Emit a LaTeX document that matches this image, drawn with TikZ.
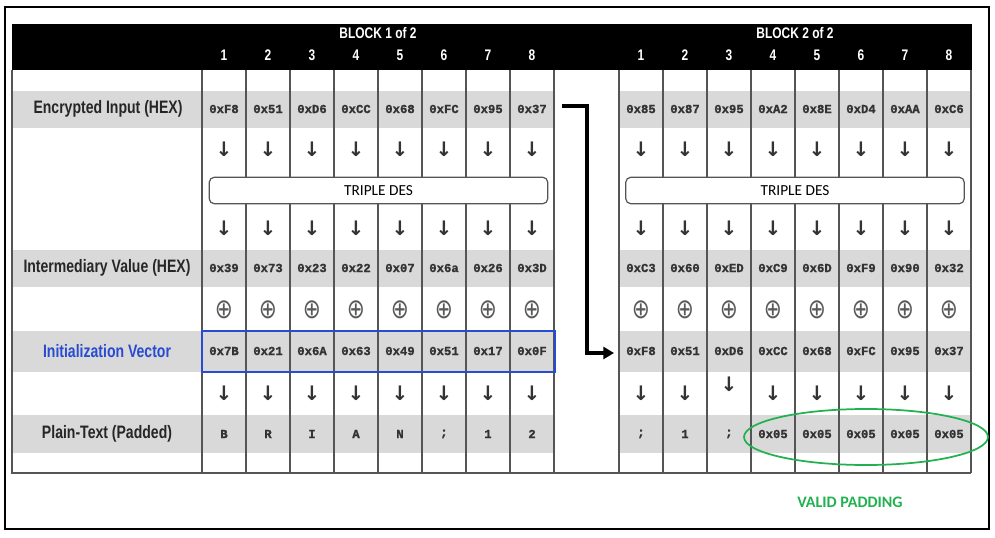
\documentclass[tikz,border=0pt]{standalone}
\usepackage{fontspec}
\setmainfont{Liberation Sans}
\newfontfamily\narrowfont[FakeStretch=0.78]{Liberation Sans Bold}
\newfontfamily\hexfont[FakeBold=1.2]{Liberation Mono Bold}
\newfontfamily\symfont{DejaVu Sans}
\newfontfamily\desfont{Carlito}
\usetikzlibrary{arrows.meta}
\definecolor{band}{RGB}{217,217,217}
\definecolor{rule}{RGB}{85,85,85}
\definecolor{ivblue}{RGB}{40,75,210}
\definecolor{padgreen}{RGB}{34,177,80}
\begin{document}
\begin{tikzpicture}[x=0.75pt,y=-0.75pt,
    hex/.style={font=\hexfont\fontsize{9.2}{9.2}\selectfont, text=black!80},
    lab/.style={font=\narrowfont\fontsize{13.5}{13.5}\selectfont, text=black!85},
    hdr/.style={font=\narrowfont\fontsize{11.5}{11.5}\selectfont, text=white},
    dn/.style={font=\symfont\bfseries\fontsize{15}{15}\selectfont, text=black!80},
    xr/.style={font=\symfont\fontsize{18}{18}\selectfont, text=black!65},
    des/.style={draw=rule, fill=white, rounded corners=4pt, line width=0.9pt,
        minimum width=254pt, minimum height=20pt, inner sep=0pt,
        font=\desfont\fontsize{11.5}{11.5}\selectfont},
    flow/.style={-{Triangle[length=8pt,width=9pt]}, line width=2.3pt}]
\useasboundingbox (0,0) rectangle (995,538);
\draw[line width=1.5pt] (5,7) rectangle (989,529);
\foreach \t/\b in {91/128,250/287,331/372,415/453}{
    \fill[band] (12,\t) rectangle (555,\b);
    \fill[band] (619,\t) rectangle (971,\b);
}
\fill (12,24) rectangle (972,70);
\draw[rule, line width=0.8pt] (12,70) -- (12,473) -- (971,473);
\node[lab] (enc) at (108,109) {Encrypted Input (HEX)};
\node[lab] (mid) at (107,268) {Intermediary Value (HEX)};
\node[lab, text=ivblue] (iv) at (107,351) {Initialization Vector};
\node[lab] (plain) at (107,434) {Plain-Text (Padded)};
\begin{scope}[shift={(202,0)}]
    \foreach \i in {0,...,8}
        \draw[rule, line width=0.8pt] (44*\i,70) -- (44*\i,473);
    \node[hdr] (blka) at (176,33) {BLOCK 1 of 2};
    \node[des] (desa) at (176.5,190.5) {TRIPLE DES};
    \draw[ivblue, line width=1.2pt] (0,331) rectangle (353,372);
    \foreach \e/\m/\v/\p [count=\i] in {0xF8/0x39/0x7B/B, 0x51/0x73/0x21/R, 0xD6/0x23/0x6A/I, 0xCC/0x22/0x63/A,
            0x68/0x07/0x49/N, 0xFC/0x6a/0x51/;, 0x95/0x26/0x17/1, 0x37/0x3D/0x0F/2}{
        \node[hdr] (numa\i) at (44*\i-22,55) {\i};
        \node[hex] (enca\i) at (44*\i-22,109) {\e};
        \node[dn] (upa\i) at (44*\i-22,149) {↓};
        \node[dn] (lowa\i) at (44*\i-22,228) {↓};
        \node[hex] (mida\i) at (44*\i-22,268) {\m};
        \node[xr] (xora\i) at (44*\i-22,310) {\scalebox{0.9}[1.15]{⊕}};
        \node[hex] (iva\i) at (44*\i-22,351) {\v};
        \node[dn] (outa\i) at (44*\i-22,393) {↓};
        \node[hex] (pta\i) at (44*\i-22,434) {\p};
    }
\end{scope}
\begin{scope}[shift={(619,0)}]
    \foreach \i in {0,...,8}
        \draw[rule, line width=0.8pt] (44*\i,70) -- (44*\i,473);
    \node[hdr] (blkb) at (176,33) {BLOCK 2 of 2};
    \node[des] (desb) at (176,190.5) {TRIPLE DES};
    \foreach \e/\m/\v/\p [count=\i] in {0x85/0xC3/0xF8/;, 0x87/0x60/0x51/1, 0x95/0xED/0xD6/;, 0xA2/0xC9/0xCC/0x05,
            0x8E/0x6D/0x68/0x05, 0xD4/0xF9/0xFC/0x05, 0xAA/0x90/0x95/0x05, 0xC6/0x32/0x37/0x05}{
        \node[hdr] (numb\i) at (44*\i-22,55) {\i};
        \node[hex] (encb\i) at (44*\i-22,109) {\e};
        \node[dn] (upb\i) at (44*\i-22,149) {↓};
        \node[dn] (lowb\i) at (44*\i-22,228) {↓};
        \node[hex] (midb\i) at (44*\i-22,268) {\m};
        \node[xr] (xorb\i) at (44*\i-22,310) {\scalebox{0.9}[1.15]{⊕}};
        \node[hex] (ivb\i) at (44*\i-22,351) {\v};
        \node[hex] (ptb\i) at (44*\i-22,434) {\p};
    }
    \foreach \i in {1,2,4,5,6,7,8}
        \node[dn] (outb\i) at (44*\i-22,393) {↓};
    \node[dn] (outb3) at (110,384) {↓};
\end{scope}
\coordinate (out) at (562,106);
\coordinate (in) at (614,353);
\draw[flow] (out) -- ++(25,0) |- (in);
\draw[padgreen, line width=1.3pt] (866,437) ellipse [x radius=122, y radius=28];
\node[font=\desfont\bfseries\fontsize{12}{12}\selectfont, text=padgreen] (valid) at (850,502) {VALID PADDING};
\end{tikzpicture}
\end{document}
